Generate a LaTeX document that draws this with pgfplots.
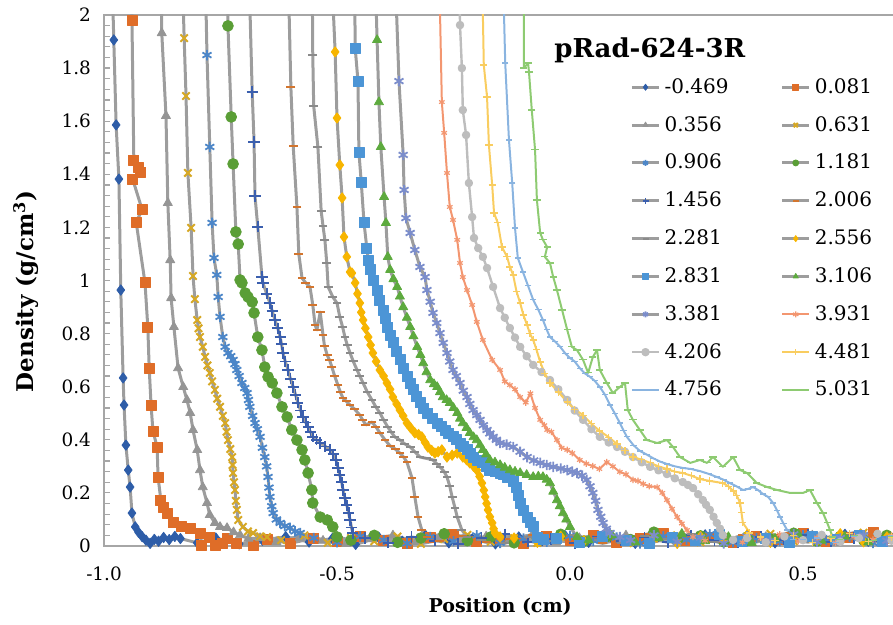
\documentclass[border=0pt]{standalone}
\usepackage{fontspec}
\setmainfont{DejaVu Serif}
\usepackage{pgfplots}
\pgfplotsset{compat=1.18}
\definecolor{lgray}{HTML}{9D9D9D}
\definecolor{axgray}{HTML}{A6A6A6}
\definecolor{cA}{HTML}{2E5DA8}
\definecolor{cB}{HTML}{DF6D28}
\definecolor{cC}{HTML}{959595}
\definecolor{cD}{HTML}{D6A824}
\definecolor{cE}{HTML}{4C86C8}
\definecolor{cF}{HTML}{5A9E36}
\definecolor{cG}{HTML}{3B5FAE}
\definecolor{cH}{HTML}{D2752E}
\definecolor{cI}{HTML}{8A8A8A}
\definecolor{cJ}{HTML}{F7B500}
\definecolor{cK}{HTML}{4C95D6}
\definecolor{cL}{HTML}{5DAA3E}
\definecolor{cM}{HTML}{7B8DCB}
\definecolor{cN}{HTML}{F39670}
\definecolor{cO}{HTML}{BDBDBD}
\definecolor{cP}{HTML}{F9CD60}
\definecolor{cQ}{HTML}{8AB4E0}
\definecolor{cR}{HTML}{8ECB72}
\begin{document}
\begin{tikzpicture}
\begin{axis}[
  scale only axis, width=396.1pt, height=265.5pt,
  xmin=-1, xmax=0.7, ymin=0, ymax=2,
  axis line style={draw=axgray, line width=0.75pt},
  /pgf/number format/assume math mode=true,
  xtick={-1,-0.5,0,0.5},
  xtick style={draw=none},
  xticklabel style={font=\fontsize{9.2}{11}\selectfont, yshift=-7pt, /pgf/number format/fixed, /pgf/number format/fixed zerofill, /pgf/number format/precision=1},
  ytick={0,0.2,0.4,0.6,0.8,1,1.2,1.4,1.6,1.8,2},
  minor y tick num=4,
  ytick pos=left,
  tick align=inside,
  major tick length=3pt, minor tick length=3pt,
  every tick/.style={draw=axgray, line width=0.6pt},
  yticklabel style={font=\fontsize{9.2}{11}\selectfont, xshift=-3pt},
  xlabel={\bfseries Position (cm)},
  ylabel={\bfseries Density (g/cm\textsuperscript{3})},
  xlabel style={font=\fontsize{9.5}{11}\selectfont, at={(axis description cs:0.5,0)}, anchor=center, yshift=-30.5pt},
  ylabel style={font=\fontsize{11.5}{13}\selectfont, at={(axis description cs:-0.0985,0.48)}, anchor=center},
  legend columns=2,
  legend cell align=left,
  legend style={at={(0.664,0.889)}, anchor=north west, draw=none, fill=none, inner sep=0pt,
    font=\fontsize{10}{12}\selectfont, row sep=6pt,
    /tikz/every even column/.append style={column sep=24pt}},
  legend image code/.code={\draw[mark repeat=2,mark phase=2] plot coordinates {(0pt,0pt) (6.8pt,0pt) (13.6pt,0pt)};},
  legend image post style={mark size=1.5pt},
  every axis plot/.append style={line join=round},
]
% -0.469
\addplot[draw=lgray, line width=1.5pt, mark=diamond*, mark size=2.6pt, mark options={draw=cA, fill=cA, line width=0.4pt}] coordinates {
(-0.982,2.1) (-0.979,1.906) (-0.974,1.586) (-0.968,1.382) (-0.964,0.964) (-0.959,0.633) (-0.957,0.531) (-0.953,0.380) (-0.948,0.286) (-0.944,0.222) (-0.940,0.124) (-0.933,0.072) (-0.926,0.052) (-0.918,0.035) (-0.910,0.022) (-0.901,0.010) (-0.892,0.025) (-0.883,0.018) (-0.872,0.032) (-0.860,0.024) (-0.848,0.036) (-0.836,0.028)
(-0.80,0.012) (-0.76,0.030) (-0.71,0.008) (-0.66,0.022) (-0.61,0.035) (-0.56,0.015) (-0.51,0.028) (-0.46,0.006) (-0.41,0.032) (-0.36,0.018) (-0.31,0.040) (-0.26,0.012) (-0.21,0.026) (-0.16,0.008) (-0.11,0.034) (-0.06,0.020) (-0.01,0.038) (0.04,0.014) (0.09,0.030) (0.14,0.010) (0.19,0.036) (0.24,0.022) (0.29,0.042) (0.34,0.016) (0.39,0.030) (0.44,0.012) (0.49,0.035) (0.54,0.020) (0.59,0.044) (0.64,0.018) (0.69,0.030)};
\addlegendentry{-0.469}
% 0.081
\addplot[draw=lgray, line width=1.5pt, mark=square*, mark size=2.5pt, mark options={draw=cB, fill=cB, line width=0.4pt}] coordinates {
(-0.941,2.1) (-0.940,1.981) (-0.936,1.454) (-0.927,1.427) (-0.921,1.409) (-0.938,1.379) (-0.918,1.266) (-0.931,1.220) (-0.912,0.991) (-0.906,0.825) (-0.903,0.670) (-0.899,0.531) (-0.895,0.433) (-0.886,0.373) (-0.884,0.260) (-0.878,0.173) (-0.873,0.147) (-0.865,0.124) (-0.852,0.087) (-0.833,0.072) (-0.815,0.068) (-0.794,0.049) (-0.790,0.004) (-0.773,0.034) (-0.762,0.004) (-0.745,0.011) (-0.736,0.030) (-0.715,0.011) (-0.680,0.004)
(-0.65,0.025) (-0.60,0.010) (-0.55,0.030) (-0.50,0.016) (-0.45,0.038) (-0.40,0.020) (-0.35,0.008) (-0.30,0.032) (-0.25,0.045) (-0.20,0.018) (-0.15,0.028) (-0.10,0.010) (-0.05,0.036) (0.00,0.022) (0.05,0.040) (0.10,0.014) (0.15,0.030) (0.20,0.048) (0.25,0.020) (0.30,0.034) (0.35,0.012) (0.40,0.038) (0.45,0.026) (0.50,0.046) (0.55,0.016) (0.60,0.034) (0.65,0.050) (0.69,0.028)};
\addlegendentry{0.081}
% 0.356
\addplot[draw=lgray, line width=1.5pt, mark=triangle*, mark size=2.6pt, mark options={draw=cC, fill=cC, line width=0.4pt}] coordinates {
(-0.877,2.1) (-0.876,1.932) (-0.867,1.620) (-0.863,1.292) (-0.858,1.077) (-0.856,0.934) (-0.850,0.825) (-0.841,0.670) (-0.830,0.599) (-0.822,0.550) (-0.815,0.501) (-0.809,0.437) (-0.800,0.362) (-0.794,0.286) (-0.788,0.222) (-0.779,0.162) (-0.773,0.117) (-0.762,0.087) (-0.751,0.072) (-0.736,0.068) (-0.722,0.052) (-0.708,0.041) (-0.690,0.028) (-0.665,0.030)
(-0.63,0.015) (-0.58,0.032) (-0.53,0.020) (-0.48,0.008) (-0.43,0.028) (-0.38,0.040) (-0.33,0.016) (-0.28,0.030) (-0.23,0.010) (-0.18,0.036) (-0.13,0.022) (-0.08,0.044) (-0.03,0.014) (0.02,0.030) (0.07,0.018) (0.12,0.040) (0.17,0.012) (0.22,0.032) (0.27,0.024) (0.32,0.046) (0.37,0.016) (0.42,0.034) (0.47,0.020) (0.52,0.040) (0.57,0.012) (0.62,0.030) (0.67,0.022)};
\addlegendentry{0.356}
% 0.631
\addplot[draw=lgray, line width=1.5pt, mark=x, mark size=2.6pt, mark options={draw=cD, line width=1pt}] coordinates {
(-0.831,2.1) (-0.828,1.913) (-0.824,1.695) (-0.820,1.405) (-0.813,1.198) (-0.809,1.017) (-0.805,0.93) (-0.800,0.851) (-0.797,0.82) (-0.794,0.787) (-0.788,0.75) (-0.783,0.712) (-0.778,0.68) (-0.773,0.652) (-0.768,0.62) (-0.762,0.588) (-0.757,0.555) (-0.751,0.524) (-0.745,0.49) (-0.740,0.463) (-0.737,0.43) (-0.734,0.399) (-0.729,0.365) (-0.725,0.335) (-0.724,0.305) (-0.723,0.275) (-0.721,0.24) (-0.719,0.211) (-0.717,0.17) (-0.715,0.136) (-0.712,0.098) (-0.702,0.072) (-0.691,0.055) (-0.680,0.049) (-0.665,0.036) (-0.650,0.034)
(-0.62,0.022) (-0.57,0.040) (-0.52,0.012) (-0.47,0.030) (-0.42,0.018) (-0.37,0.036) (-0.32,0.008) (-0.27,0.026) (-0.22,0.042) (-0.17,0.016) (-0.12,0.030) (-0.07,0.012) (-0.02,0.034) (0.03,0.020) (0.08,0.044) (0.13,0.016) (0.18,0.028) (0.23,0.040) (0.28,0.014) (0.33,0.032) (0.38,0.022) (0.43,0.046) (0.48,0.018) (0.53,0.036) (0.58,0.024) (0.63,0.050) (0.68,0.030)};
\addlegendentry{0.631}
% 0.906
\addplot[draw=lgray, line width=1.5pt, mark=asterisk, mark size=2.6pt, mark options={draw=cE, line width=0.9pt}] coordinates {
(-0.782,2.1) (-0.779,1.849) (-0.773,1.503) (-0.768,1.217) (-0.764,1.085) (-0.758,1.021) (-0.755,0.938) (-0.751,0.863) (-0.745,0.787) (-0.740,0.75) (-0.734,0.727) (-0.728,0.715) (-0.723,0.701) (-0.719,0.685) (-0.715,0.663) (-0.710,0.64) (-0.704,0.614) (-0.698,0.595) (-0.693,0.576) (-0.690,0.55) (-0.687,0.524) (-0.681,0.49) (-0.676,0.463) (-0.671,0.44) (-0.665,0.411) (-0.660,0.37) (-0.655,0.335) (-0.651,0.30) (-0.648,0.260) (-0.646,0.22) (-0.644,0.185) (-0.640,0.15) (-0.637,0.124) (-0.630,0.10) (-0.622,0.087) (-0.612,0.075) (-0.601,0.068) (-0.590,0.055) (-0.579,0.049)
(-0.55,0.030) (-0.50,0.014) (-0.45,0.036) (-0.40,0.022) (-0.35,0.010) (-0.30,0.034) (-0.25,0.018) (-0.20,0.040) (-0.15,0.012) (-0.10,0.028) (-0.05,0.016) (0.00,0.038) (0.05,0.020) (0.10,0.032) (0.15,0.010) (0.20,0.036) (0.25,0.024) (0.30,0.044) (0.35,0.014) (0.40,0.030) (0.45,0.018) (0.50,0.040) (0.55,0.022) (0.60,0.034) (0.65,0.012) (0.69,0.030)};
\addlegendentry{0.906}
% 1.181
\addplot[draw=lgray, line width=1.5pt, mark=*, mark size=2.7pt, mark options={draw=cF, fill=cF, line width=0.4pt}] coordinates {
(-0.735,2.1) (-0.734,1.959) (-0.727,1.616) (-0.723,1.439) (-0.717,1.183) (-0.712,1.137) (-0.708,1.002) (-0.704,0.991) (-0.697,0.953) (-0.691,0.938) (-0.682,0.919) (-0.678,0.878) (-0.670,0.787) (-0.661,0.738) (-0.655,0.674) (-0.648,0.637) (-0.639,0.614) (-0.629,0.576) (-0.618,0.524) (-0.607,0.486) (-0.597,0.437) (-0.586,0.399) (-0.575,0.362) (-0.569,0.324) (-0.562,0.275) (-0.554,0.211) (-0.552,0.162) (-0.536,0.109) (-0.521,0.098) (-0.509,0.072) (-0.500,0.034)
(-0.47,0.022) (-0.42,0.040) (-0.37,0.014) (-0.32,0.030) (-0.27,0.046) (-0.22,0.020) (-0.17,0.034) (-0.12,0.012) (-0.07,0.028) (-0.02,0.044) (0.03,0.018) (0.08,0.036) (0.13,0.024) (0.18,0.052) (0.23,0.020) (0.28,0.038) (0.33,0.016) (0.38,0.034) (0.43,0.026) (0.48,0.048) (0.53,0.018) (0.58,0.036) (0.63,0.022) (0.68,0.040)};
\addlegendentry{1.181}
% 1.456
\addplot[draw=lgray, line width=1.5pt, mark=+, mark size=2.8pt, mark options={draw=cG, line width=0.9pt}] coordinates {
(-0.688,2.1) (-0.682,1.710) (-0.678,1.522) (-0.676,1.318) (-0.670,1.202) (-0.661,1.013) (-0.659,0.991) (-0.651,0.95) (-0.644,0.915) (-0.639,0.885) (-0.633,0.851) (-0.627,0.82) (-0.622,0.787) (-0.619,0.76) (-0.616,0.727) (-0.611,0.695) (-0.605,0.663) (-0.600,0.63) (-0.594,0.599) (-0.589,0.57) (-0.584,0.539) (-0.578,0.51) (-0.573,0.486) (-0.567,0.465) (-0.562,0.448) (-0.557,0.43) (-0.552,0.411) (-0.544,0.40) (-0.536,0.388) (-0.525,0.375) (-0.515,0.362) (-0.508,0.345) (-0.502,0.324) (-0.498,0.295) (-0.494,0.267) (-0.490,0.24) (-0.487,0.211) (-0.483,0.18) (-0.479,0.154) (-0.475,0.125) (-0.472,0.098) (-0.469,0.07) (-0.466,0.049)
(-0.44,0.030) (-0.39,0.012) (-0.34,0.034) (-0.29,0.020) (-0.24,0.008) (-0.19,0.030) (-0.14,0.044) (-0.09,0.016) (-0.04,0.026) (0.01,0.010) (0.06,0.036) (0.11,0.020) (0.16,0.032) (0.21,0.014) (0.26,0.040) (0.31,0.022) (0.36,0.012) (0.41,0.034) (0.46,0.024) (0.51,0.042) (0.56,0.016) (0.61,0.030) (0.66,0.020)};
\addlegendentry{1.456}
% 2.006
\addplot[draw=lgray, line width=1.5pt, mark=-, mark size=2.2pt, mark options={draw=cH, line width=1pt}] coordinates {
(-0.604,2.1) (-0.599,1.729) (-0.594,1.507) (-0.586,1.277) (-0.582,1.100) (-0.575,1.009) (-0.567,0.991) (-0.558,0.976) (-0.552,0.908) (-0.547,0.832) (-0.543,0.814) (-0.536,0.881) (-0.530,0.795) (-0.527,0.755) (-0.521,0.719) (-0.516,0.70) (-0.511,0.674) (-0.505,0.64) (-0.498,0.606) (-0.493,0.58) (-0.487,0.557) (-0.480,0.545) (-0.472,0.531) (-0.462,0.515) (-0.451,0.493) (-0.445,0.475) (-0.438,0.456) (-0.425,0.467) (-0.417,0.45) (-0.408,0.426) (-0.397,0.40) (-0.386,0.377) (-0.375,0.365) (-0.365,0.350) (-0.357,0.335) (-0.350,0.316) (-0.339,0.256) (-0.333,0.185) (-0.326,0.109) (-0.318,0.060) (-0.307,0.034)
(-0.28,0.020) (-0.23,0.036) (-0.18,0.014) (-0.13,0.028) (-0.08,0.042) (-0.03,0.018) (0.02,0.032) (0.07,0.010) (0.12,0.030) (0.17,0.046) (0.22,0.020) (0.27,0.034) (0.32,0.014) (0.37,0.040) (0.42,0.026) (0.47,0.050) (0.52,0.018) (0.57,0.036) (0.62,0.054) (0.67,0.026)};
\addlegendentry{2.006}
% 2.281
\addplot[draw=lgray, line width=1.5pt, mark=-, mark size=2.2pt, mark options={draw=cI, line width=1pt}] coordinates {
(-0.553,2.1) (-0.552,1.849) (-0.550,1.657) (-0.541,1.503) (-0.534,1.262) (-0.530,1.205) (-0.526,1.153) (-0.522,1.066) (-0.519,0.976) (-0.509,0.938) (-0.500,0.915) (-0.494,0.863) (-0.488,0.825) (-0.483,0.787) (-0.478,0.757) (-0.472,0.727) (-0.465,0.695) (-0.457,0.663) (-0.451,0.64) (-0.444,0.614) (-0.435,0.58) (-0.425,0.550) (-0.417,0.525) (-0.408,0.501) (-0.400,0.475) (-0.391,0.448) (-0.384,0.43) (-0.376,0.411) (-0.365,0.399) (-0.355,0.385) (-0.343,0.373) (-0.333,0.355) (-0.322,0.335) (-0.308,0.33) (-0.294,0.324) (-0.286,0.31) (-0.279,0.298) (-0.270,0.28) (-0.264,0.260) (-0.258,0.225) (-0.253,0.185) (-0.247,0.145) (-0.242,0.109) (-0.232,0.060) (-0.221,0.034)
(-0.19,0.024) (-0.14,0.010) (-0.09,0.034) (-0.04,0.018) (0.01,0.040) (0.06,0.022) (0.11,0.012) (0.16,0.036) (0.21,0.026) (0.26,0.044) (0.31,0.016) (0.36,0.032) (0.41,0.020) (0.46,0.040) (0.51,0.014) (0.56,0.034) (0.61,0.026) (0.66,0.046)};
\addlegendentry{2.281}
% 2.556
\addplot[draw=lgray, line width=1.5pt, mark=diamond*, mark size=2.6pt, mark options={draw=cJ, fill=cJ, line width=0.4pt}] coordinates {
(-0.510,2.1) (-0.504,1.861) (-0.500,1.612) (-0.494,1.435) (-0.489,1.311) (-0.485,1.164) (-0.479,1.089) (-0.472,1.032) (-0.468,1.028) (-0.461,0.991) (-0.456,0.95) (-0.451,0.915) (-0.448,0.88) (-0.444,0.851) (-0.439,0.82) (-0.433,0.787) (-0.428,0.757) (-0.423,0.727) (-0.416,0.695) (-0.408,0.663) (-0.400,0.64) (-0.393,0.614) (-0.386,0.59) (-0.380,0.561) (-0.372,0.535) (-0.365,0.512) (-0.358,0.49) (-0.350,0.463) (-0.342,0.445) (-0.333,0.426) (-0.325,0.42) (-0.318,0.411) (-0.311,0.39) (-0.305,0.373) (-0.297,0.36) (-0.290,0.350) (-0.283,0.355) (-0.275,0.362) (-0.264,0.335) (-0.253,0.342) (-0.242,0.350) (-0.230,0.335) (-0.222,0.325) (-0.215,0.313) (-0.207,0.30) (-0.200,0.286) (-0.194,0.262) (-0.189,0.237) (-0.185,0.21) (-0.182,0.185) (-0.179,0.16) (-0.176,0.136) (-0.172,0.11) (-0.167,0.087) (-0.164,0.065) (-0.161,0.049) (-0.150,0.034)
(-0.12,0.030) (-0.07,0.014) (-0.02,0.036) (0.03,0.020) (0.08,0.044) (0.13,0.016) (0.18,0.030) (0.23,0.010) (0.28,0.036) (0.33,0.022) (0.38,0.042) (0.43,0.014) (0.48,0.032) (0.53,0.020) (0.58,0.046) (0.63,0.016) (0.68,0.034)};
\addlegendentry{2.556}
% 2.831
\addplot[draw=lgray, line width=1.5pt, mark=square*, mark size=2.5pt, mark options={draw=cK, fill=cK, line width=0.4pt}] coordinates {
(-0.462,2.1) (-0.461,1.876) (-0.455,1.751) (-0.453,1.484) (-0.448,1.371) (-0.442,1.217) (-0.436,1.122) (-0.433,1.077) (-0.429,1.040) (-0.421,1.00) (-0.414,0.964) (-0.408,0.925) (-0.401,0.889) (-0.396,0.857) (-0.391,0.825) (-0.386,0.795) (-0.380,0.765) (-0.372,0.733) (-0.365,0.701) (-0.358,0.67) (-0.350,0.637) (-0.343,0.612) (-0.337,0.588) (-0.330,0.563) (-0.322,0.539) (-0.314,0.52) (-0.305,0.501) (-0.295,0.482) (-0.285,0.463) (-0.277,0.45) (-0.268,0.437) (-0.260,0.424) (-0.251,0.411) (-0.244,0.40) (-0.236,0.388) (-0.228,0.375) (-0.221,0.362) (-0.214,0.349) (-0.208,0.335) (-0.198,0.324) (-0.189,0.313) (-0.180,0.30) (-0.172,0.286) (-0.161,0.28) (-0.150,0.275) (-0.142,0.268) (-0.135,0.260) (-0.129,0.260) (-0.121,0.245) (-0.114,0.222) (-0.110,0.19) (-0.107,0.162) (-0.100,0.135) (-0.092,0.109) (-0.086,0.09) (-0.079,0.072) (-0.071,0.034) (-0.058,0.023)
(-0.03,0.030) (0.02,0.014) (0.07,0.036) (0.12,0.022) (0.17,0.010) (0.22,0.034) (0.27,0.020) (0.32,0.042) (0.37,0.016) (0.42,0.030) (0.47,0.012) (0.52,0.036) (0.57,0.024) (0.62,0.040) (0.67,0.018)};
\addlegendentry{2.831}
% 3.106
\addplot[draw=lgray, line width=1.5pt, mark=triangle*, mark size=2.6pt, mark options={draw=cL, fill=cL, line width=0.4pt}] coordinates {
(-0.417,2.1) (-0.414,1.906) (-0.410,1.672) (-0.406,1.503) (-0.399,1.315) (-0.395,1.217) (-0.391,1.089) (-0.386,1.040) (-0.379,1.005) (-0.371,0.976) (-0.365,0.94) (-0.358,0.900) (-0.350,0.86) (-0.343,0.825) (-0.336,0.79) (-0.328,0.750) (-0.321,0.72) (-0.315,0.689) (-0.308,0.655) (-0.300,0.625) (-0.292,0.61) (-0.285,0.599) (-0.279,0.58) (-0.273,0.561) (-0.265,0.55) (-0.258,0.539) (-0.250,0.52) (-0.242,0.501) (-0.236,0.48) (-0.230,0.463) (-0.222,0.445) (-0.215,0.426) (-0.207,0.41) (-0.200,0.399) (-0.193,0.38) (-0.187,0.362) (-0.180,0.345) (-0.172,0.324) (-0.161,0.315) (-0.150,0.305) (-0.140,0.295) (-0.129,0.286) (-0.118,0.28) (-0.107,0.275) (-0.093,0.268) (-0.079,0.260) (-0.068,0.262) (-0.058,0.260) (-0.050,0.25) (-0.043,0.237) (-0.036,0.205) (-0.028,0.173) (-0.022,0.15) (-0.015,0.124) (-0.008,0.10) (0.000,0.072) (0.015,0.034)
(0.04,0.022) (0.09,0.040) (0.14,0.014) (0.19,0.030) (0.24,0.046) (0.29,0.018) (0.34,0.034) (0.39,0.012) (0.44,0.028) (0.49,0.044) (0.54,0.020) (0.59,0.036) (0.64,0.014) (0.69,0.030)};
\addlegendentry{3.106}
% 3.381
\addplot[draw=lgray, line width=1.5pt, mark=asterisk, mark size=2.6pt, mark options={draw=cM, line width=0.9pt}] coordinates {
(-0.374,2.1) (-0.367,1.751) (-0.358,1.473) (-0.356,1.341) (-0.352,1.235) (-0.343,1.179) (-0.333,1.115) (-0.322,1.051) (-0.311,1.013) (-0.307,0.964) (-0.300,0.92) (-0.294,0.878) (-0.286,0.84) (-0.279,0.802) (-0.272,0.765) (-0.264,0.727) (-0.258,0.695) (-0.251,0.663) (-0.244,0.64) (-0.236,0.614) (-0.229,0.585) (-0.221,0.561) (-0.215,0.535) (-0.208,0.512) (-0.200,0.493) (-0.193,0.475) (-0.186,0.455) (-0.178,0.437) (-0.172,0.424) (-0.165,0.411) (-0.158,0.40) (-0.150,0.388) (-0.136,0.382) (-0.122,0.373) (-0.107,0.355) (-0.092,0.335) (-0.078,0.322) (-0.064,0.313) (-0.050,0.305) (-0.036,0.298) (-0.020,0.292) (-0.006,0.286) (0.005,0.28) (0.015,0.275) (0.026,0.265) (0.036,0.249) (0.043,0.225) (0.049,0.200) (0.055,0.17) (0.060,0.136) (0.066,0.11) (0.071,0.087) (0.078,0.065) (0.086,0.049) (0.107,0.034)
(0.13,0.022) (0.18,0.040) (0.23,0.016) (0.28,0.032) (0.33,0.010) (0.38,0.036) (0.43,0.020) (0.48,0.044) (0.53,0.016) (0.58,0.030) (0.63,0.040) (0.68,0.020)};
\addlegendentry{3.381}
% 3.931
\addplot[draw=cN, line width=1pt, mark=asterisk, mark size=1.6pt, mark options={draw=cN, line width=0.6pt}] coordinates {
(-0.280,2.1) (-0.275,1.672) (-0.270,1.556) (-0.264,1.405) (-0.258,1.277) (-0.251,1.228) (-0.242,1.153) (-0.236,1.066) (-0.230,1.013) (-0.221,0.964) (-0.210,0.908) (-0.200,0.844) (-0.187,0.776) (-0.167,0.701) (-0.150,0.663) (-0.140,0.62) (-0.129,0.606) (-0.118,0.59) (-0.107,0.561) (-0.095,0.54) (-0.085,0.575) (-0.075,0.52) (-0.064,0.475) (-0.055,0.455) (-0.049,0.437) (-0.040,0.43) (-0.028,0.399) (-0.018,0.37) (-0.006,0.362) (0.005,0.35) (0.021,0.324) (0.035,0.31) (0.049,0.301) (0.063,0.29) (0.079,0.316) (0.092,0.30) (0.107,0.279) (0.120,0.27) (0.135,0.249) (0.146,0.245) (0.157,0.234) (0.170,0.225) (0.187,0.222) (0.198,0.20) (0.208,0.173) (0.219,0.14) (0.230,0.109) (0.240,0.085) (0.251,0.060) (0.264,0.034)
(0.29,0.020) (0.33,0.036) (0.37,0.014) (0.41,0.030) (0.45,0.044) (0.49,0.018) (0.53,0.032) (0.57,0.012) (0.61,0.036) (0.65,0.024) (0.69,0.040)};
\addlegendentry{3.931}
% 4.206
\addplot[draw=cO, line width=1.2pt, mark=*, mark size=1.5pt, mark options={draw=cO, fill=cO}] coordinates {
(-0.237,2.1) (-0.236,1.962) (-0.232,1.800) (-0.230,1.642) (-0.223,1.548) (-0.217,1.367) (-0.210,1.239) (-0.206,1.160) (-0.197,1.122) (-0.187,1.089) (-0.178,1.047) (-0.165,0.976) (-0.150,0.896) (-0.140,0.86) (-0.129,0.821) (-0.118,0.785) (-0.107,0.750) (-0.093,0.715) (-0.079,0.682) (-0.061,0.655) (-0.043,0.625) (-0.025,0.59) (-0.006,0.550) (0.010,0.51) (0.028,0.475) (0.046,0.44) (0.064,0.411) (0.083,0.39) (0.101,0.373) (0.118,0.355) (0.135,0.335) (0.154,0.315) (0.172,0.298) (0.190,0.285) (0.208,0.271) (0.225,0.255) (0.242,0.241) (0.253,0.23) (0.264,0.218) (0.275,0.195) (0.285,0.173) (0.292,0.155) (0.300,0.136) (0.308,0.11) (0.315,0.087) (0.322,0.065) (0.328,0.041) (0.350,0.023)
(0.38,0.030) (0.42,0.014) (0.46,0.036) (0.50,0.022) (0.54,0.042) (0.58,0.016) (0.62,0.030) (0.66,0.046) (0.69,0.020)};
\addlegendentry{4.206}
% 4.481
\addplot[draw=cP, line width=1pt, mark=+, mark size=1.8pt, mark options={draw=cP, line width=0.6pt}] coordinates {
(-0.188,2.1) (-0.185,1.812) (-0.178,1.691) (-0.174,1.510) (-0.167,1.360) (-0.163,1.254) (-0.155,1.217) (-0.146,1.126) (-0.135,1.089) (-0.129,1.051) (-0.122,1.021) (-0.115,0.96) (-0.107,0.915) (-0.100,0.87) (-0.092,0.832) (-0.086,0.80) (-0.079,0.776) (-0.072,0.74) (-0.064,0.693) (-0.054,0.65) (-0.043,0.614) (-0.025,0.58) (-0.006,0.542) (0.010,0.515) (0.028,0.493) (0.046,0.46) (0.064,0.433) (0.083,0.41) (0.101,0.384) (0.118,0.36) (0.135,0.335) (0.154,0.325) (0.172,0.313) (0.190,0.30) (0.208,0.290) (0.225,0.28) (0.242,0.275) (0.260,0.265) (0.279,0.252) (0.300,0.245) (0.328,0.237) (0.340,0.225) (0.350,0.207) (0.358,0.19) (0.365,0.162) (0.368,0.125) (0.371,0.087) (0.386,0.049) (0.408,0.034)
(0.44,0.022) (0.48,0.040) (0.52,0.014) (0.56,0.030) (0.60,0.046) (0.64,0.018) (0.69,0.034)};
\addlegendentry{4.481}
% 4.756
\addplot[draw=cQ, line width=1pt, mark=-, mark size=1.6pt, mark options={draw=cQ, line width=0.6pt}] coordinates {
(-0.143,2.1) (-0.139,1.819) (-0.131,1.529) (-0.124,1.367) (-0.118,1.198) (-0.112,1.085) (-0.101,1.032) (-0.090,0.98) (-0.079,0.927) (-0.068,0.89) (-0.058,0.851) (-0.050,0.815) (-0.043,0.787) (-0.032,0.77) (-0.021,0.750) (-0.010,0.725) (0.000,0.708) (0.010,0.695) (0.021,0.670) (0.032,0.65) (0.043,0.637) (0.053,0.622) (0.064,0.599) (0.075,0.57) (0.086,0.531) (0.096,0.50) (0.107,0.463) (0.115,0.435) (0.122,0.411) (0.136,0.38) (0.150,0.358) (0.164,0.345) (0.178,0.331) (0.193,0.318) (0.208,0.309) (0.225,0.30) (0.242,0.294) (0.260,0.29) (0.279,0.282) (0.297,0.272) (0.315,0.260) (0.329,0.25) (0.343,0.237) (0.357,0.225) (0.371,0.211) (0.382,0.215) (0.393,0.222) (0.404,0.21) (0.414,0.196) (0.425,0.185) (0.436,0.162) (0.444,0.135) (0.451,0.109) (0.458,0.085) (0.466,0.060) (0.479,0.023) (0.500,0.023)
(0.53,0.030) (0.57,0.014) (0.61,0.036) (0.65,0.022) (0.69,0.040)};
\addlegendentry{4.756}
% 5.031
\addplot[draw=cR, line width=1pt, mark=-, mark size=1.8pt, mark options={draw=cR, line width=0.6pt}] coordinates {
(-0.099,2.1) (-0.099,1.80) (-0.090,1.819) (-0.088,1.785) (-0.082,1.642) (-0.075,1.492) (-0.071,1.303) (-0.064,1.179) (-0.058,1.153) (-0.049,1.126) (-0.054,1.089) (-0.043,1.066) (-0.036,1.013) (-0.028,0.964) (-0.017,0.889) (-0.006,0.814) (0.004,0.750) (0.015,0.738) (0.028,0.701) (0.039,0.652) (0.049,0.712) (0.058,0.738) (0.064,0.663) (0.079,0.614) (0.092,0.576) (0.107,0.599) (0.118,0.614) (0.124,0.512) (0.135,0.475) (0.150,0.437) (0.165,0.399) (0.187,0.388) (0.208,0.399) (0.221,0.373) (0.236,0.335) (0.258,0.313) (0.279,0.324) (0.294,0.313) (0.307,0.335) (0.328,0.298) (0.350,0.335) (0.365,0.286) (0.380,0.275) (0.401,0.237) (0.423,0.222) (0.444,0.211) (0.472,0.200) (0.500,0.200) (0.515,0.211) (0.530,0.162) (0.543,0.124) (0.552,0.087) (0.558,0.060) (0.564,0.034) (0.579,0.023)
(0.61,0.040) (0.65,0.020) (0.69,0.036)};
\addlegendentry{5.031}
\node[font=\bfseries\fontsize{13}{15}\selectfont, anchor=center] at (rel axis cs:0.689,0.934) {pRad-624-3R};
\end{axis}
\pgfresetboundingbox
\path[use as bounding box] ([shift={(-52pt,-39.5pt)}]current axis.south west) rectangle ++(446.5pt,312.5pt);
\end{tikzpicture}
\end{document}
